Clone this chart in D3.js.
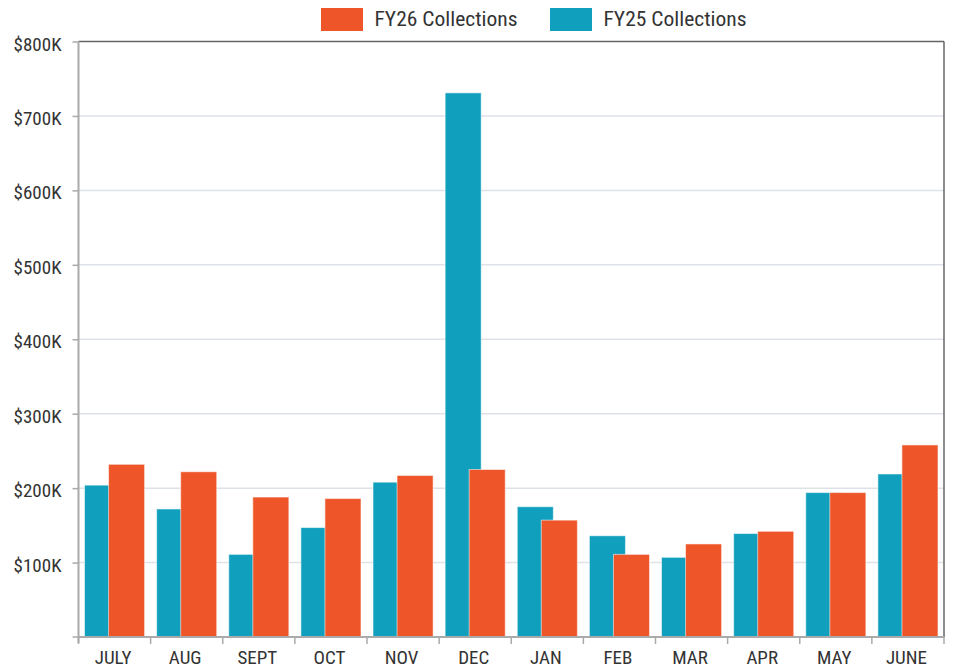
<!DOCTYPE html>
<html><head><meta charset="utf-8">
<script src="https://cdn.jsdelivr.net/npm/d3@7"></script>
<style>
body{margin:0;background:#fff;}
svg{display:block;}
text{font-family:"Roboto Condensed","Roboto",sans-serif;fill:#333;}
</style></head>
<body><svg id="c" width="953" height="671"></svg>
<script>
const months = ["JULY","AUG","SEPT","OCT","NOV","DEC","JAN","FEB","MAR","APR","MAY","JUNE"];
const fy25 = [204,172,111,147,208,731,175,136,107,139,194,219];
const fy26 = [232,222,188,186,217,225,157,111,125,142,194,258];
const yTicks = [100000,200000,300000,400000,500000,600000,700000,800000];
const seriesNames = ["FY26 Collections","FY25 Collections"];
const colors = {fy26:"#EE5529", fy25:"#10A0BE"};

const svg = d3.select("#c");
const m = {l:78.5, r:9, t:41.5, b:34};
const W = 953, H = 671;
const x = d3.scaleBand().domain(months).range([m.l, W-m.r]).paddingInner(1/6).paddingOuter(1/12);
const y = d3.scaleLinear().domain([0,800000]).range([H-m.b, m.t]);
const bw = x.bandwidth();

// gridlines
svg.append("g").selectAll("line").data(yTicks.slice(0,-1)).join("line")
  .attr("x1", m.l).attr("x2", W-m.r).attr("y1", d=>y(d)).attr("y2", d=>y(d))
  .attr("stroke","#dde1e8").attr("stroke-width",1.5);

// bars FY25 (behind)
svg.append("g").selectAll("rect").data(months).join("rect")
  .attr("x", d=>x(d)).attr("width", bw*0.6)
  .attr("y", (d,i)=>y(fy25[i]*1000)).attr("height",(d,i)=>y(0)-y(fy25[i]*1000))
  .attr("fill", colors.fy25).attr("stroke","rgba(255,255,255,0.55)").attr("stroke-width",1);
// bars FY26 (front)
svg.append("g").selectAll("rect").data(months).join("rect")
  .attr("x", d=>x(d)+bw*0.4).attr("width", bw*0.6)
  .attr("y", (d,i)=>y(fy26[i]*1000)).attr("height",(d,i)=>y(0)-y(fy26[i]*1000))
  .attr("fill", colors.fy26).attr("stroke","rgba(255,255,255,0.55)").attr("stroke-width",1);

// frame top/right
svg.append("line").attr("x1",m.l).attr("x2",W-m.r).attr("y1",m.t).attr("y2",m.t).attr("stroke","#666").attr("stroke-width",1.5);
svg.append("line").attr("x1",W-m.r).attr("x2",W-m.r).attr("y1",m.t).attr("y2",H-m.b).attr("stroke","#666").attr("stroke-width",1.5);

// y axis
const fmt = d=>"$"+(d/1000)+"K";
const ya = svg.append("g").attr("transform",`translate(${m.l},0)`)
  .call(d3.axisLeft(y).tickValues(yTicks).tickSize(6).tickPadding(11).tickFormat(fmt));
ya.select(".domain").remove();
ya.append("line").attr("y1",m.t).attr("y2",H-m.b+6).attr("stroke","#aaa").attr("stroke-width",2);
ya.selectAll(".tick line").attr("stroke","#aaa").attr("stroke-width",1.5);
ya.selectAll(".tick text").attr("font-size",19).attr("fill","#333").attr("dy","0.45em")
  .attr("font-family",'"Roboto Condensed","Roboto",sans-serif');
ya.append("line").attr("x1",-6).attr("x2",0).attr("y1",y(0)).attr("y2",y(0)).attr("stroke","#aaa").attr("stroke-width",1.5);

// x axis
const xa = svg.append("g").attr("transform",`translate(0,${H-m.b})`);
xa.append("line").attr("x1",m.l).attr("x2",W-m.r).attr("stroke","#aaa").attr("stroke-width",2);
const step = x.step();
const bounds = d3.range(months.length+1).map(i=>m.l+i*step);
xa.selectAll("line.t").data(bounds).join("line").attr("class","t")
  .attr("x1",d=>d).attr("x2",d=>d).attr("y1",0).attr("y2",7).attr("stroke","#aaa").attr("stroke-width",1.5);
xa.selectAll("text").data(months).join("text")
  .attr("x",d=>x(d)+bw/2-1.5).attr("y",27)
  .attr("text-anchor","middle").attr("font-size",19).attr("fill","#333").text(d=>d);

// legend
const lg = svg.append("g");
const items = [{n:seriesNames[0],c:colors.fy26,x:321},{n:seriesNames[1],c:colors.fy25,x:550}];
items.forEach(it=>{
  lg.append("rect").attr("x",it.x).attr("y",8).attr("width",42).attr("height",23).attr("fill",it.c);
  lg.append("text").attr("transform",`translate(${it.x+53.5},26) scale(1.06,1)`)
    .attr("font-size",20.3).attr("fill","#333").text(it.n);
});
</script></body></html>
